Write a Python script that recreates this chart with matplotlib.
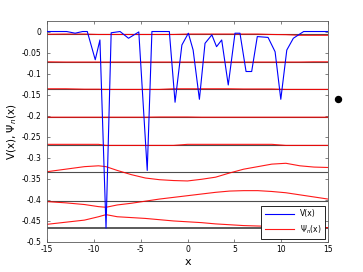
import numpy as np
import matplotlib.pyplot as plt

# potential V(x)
VX = [-15, -12.9, -12.0, -11.2, -10.7, -9.85, -9.35, -8.7, -8.15, -7.2, -6.3, -5.2,
      -4.3, -3.8, -1.94, -1.33, -0.6, 0.09, 0.6, 1.27, 1.87, 2.6, 3.1, 3.65, 4.35,
      5.07, 5.6, 6.25, 6.85, 7.45, 8.6, 9.35, 9.96, 10.6, 11.3, 12.4, 15]
VY = [0, 0, -0.004, 0, 0, -0.067, -0.02, -0.467, -0.003, 0, -0.016, -0.001,
      -0.330, 0, 0, -0.168, -0.032, -0.004, -0.044, -0.161, -0.028, -0.008, -0.036, -0.02, -0.127,
      -0.004, -0.004, -0.095, -0.095, -0.012, -0.014, -0.048, -0.161, -0.044, -0.016, 0, 0]

# eigen-energies (lowest first)
ENERGY = [-0.466, -0.402, -0.334, -0.269, -0.2035, -0.137, -0.073, -0.007]

# wavefunctions, shifted by energy
XP = [-15, -13, -11, -9.5, -8.7, -7.5, -6, -4.5, -3, -1.5, 0, 1.5, 3, 4.5, 6, 7.5, 9, 10.5, 12, 13.5, 15]
PSI1 = [-0.458, -0.453, -0.448, -0.440, -0.435, -0.440, -0.442, -0.444, -0.447, -0.450, -0.452,
        -0.454, -0.457, -0.459, -0.461, -0.462, -0.463, -0.463, -0.464, -0.465, -0.466]
PSI2 = [-0.404, -0.407, -0.411, -0.416, -0.4175, -0.412, -0.408, -0.403, -0.398, -0.394, -0.390,
        -0.386, -0.382, -0.379, -0.378, -0.378, -0.380, -0.383, -0.388, -0.393, -0.398]
PSI3 = [-0.333, -0.327, -0.321, -0.319, -0.321, -0.330, -0.340, -0.348, -0.352, -0.354, -0.355,
        -0.351, -0.346, -0.336, -0.327, -0.321, -0.315, -0.313, -0.319, -0.322, -0.323]
PSI4 = [-0.268, -0.268, -0.268, -0.268, -0.2705, -0.2705, -0.2705, -0.2705, -0.2705, -0.2705, -0.268,
        -0.268, -0.268, -0.268, -0.268, -0.268, -0.268, -0.2705, -0.2705, -0.2705, -0.2705]
PSI5 = [-0.2035, -0.2035, -0.2035, -0.2035, -0.2035, -0.2035, -0.2035, -0.2035, -0.203, -0.203, -0.203,
        -0.2035, -0.2035, -0.2035, -0.2035, -0.2035, -0.2035, -0.2035, -0.2035, -0.2035, -0.2035]
PSI6 = [-0.136, -0.136, -0.137, -0.137, -0.1375, -0.1375, -0.1375, -0.1375, -0.1375, -0.136, -0.136,
        -0.136, -0.136, -0.136, -0.1365, -0.1365, -0.1365, -0.1375, -0.1375, -0.1375, -0.1375]
PSI7 = [-0.072, -0.0725, -0.0725, -0.0725, -0.0725, -0.0725, -0.0725, -0.0725, -0.0725, -0.0725, -0.0725,
        -0.0725, -0.0725, -0.0725, -0.0725, -0.0725, -0.0725, -0.0725, -0.0725, -0.072, -0.072]
PSI8 = [-0.0065, -0.006, -0.006, -0.007, -0.007, -0.007, -0.007, -0.007, -0.007, -0.007, -0.006,
        -0.006, -0.006, -0.006, -0.006, -0.006, -0.007, -0.0075, -0.009, -0.009, -0.009]
PSI = [PSI1, PSI2, PSI3, PSI4, PSI5, PSI6, PSI7, PSI8]

XTICKS = [-15, -10, -5, 0, 5, 10, 15]
YTICKS = [-0.5, -0.45, -0.4, -0.35, -0.3, -0.25, -0.2, -0.15, -0.1, -0.05, 0]

fig = plt.figure(figsize=(3.63, 2.72), dpi=100)
ax = fig.add_axes([0.1295, 0.1103, 0.7741, 0.8125])

for i, e in enumerate(ENERGY):
    ax.plot([-15, 15], [e, e], color='0.3', lw=1.3 if i == 0 else 0.8, zorder=1)
for i, p in enumerate(PSI):
    ax.plot(XP, p, color='red', lw=0.8, alpha=0.9, zorder=2,
            label=r'$\Psi_n$(x)' if i == 0 else None)
ax.plot(VX, VY, color='blue', lw=0.8, zorder=3, label='V(x)')

# stray marker outside the axes
ax.plot(16.1, -0.16, 'ko', ms=4.3, clip_on=False)

ax.set_xlim(-15, 15)
ax.set_ylim(-0.5, 0.025)
ax.set_xticks(XTICKS)
ax.set_xticklabels([str(t) for t in XTICKS])
ax.set_yticks(YTICKS)
ax.set_yticklabels(['-0.5', '-0.45', '-0.4', '-0.35', '-0.3', '-0.25', '-0.2',
                    '-0.15', '-0.1', '-0.05', '0'])
ax.tick_params(direction='in', top=True, right=True, labelsize=5.5, length=2.5,
               width=0.5, color='0.3')
ax.tick_params(axis='y', pad=4)
ax.tick_params(axis='x', pad=2.5)
for s in ax.spines.values():
    s.set_color('0.35')
    s.set_linewidth(0.6)

ax.set_xlabel('x', fontsize=8, labelpad=2)
ax.set_ylabel(r'V(x), $\Psi_n$(x)', fontsize=7.5, labelpad=2)

h, l = ax.get_legend_handles_labels()
leg = ax.legend(h[::-1], l[::-1], loc='lower right', fontsize=5.5, frameon=True,
                fancybox=False, edgecolor='black', framealpha=1, borderaxespad=0.35,
                handlelength=3.8, borderpad=0.5, labelspacing=0.6)
leg.get_frame().set_linewidth(0.6)

plt.savefig('out.png', dpi=100)
plt.close()
